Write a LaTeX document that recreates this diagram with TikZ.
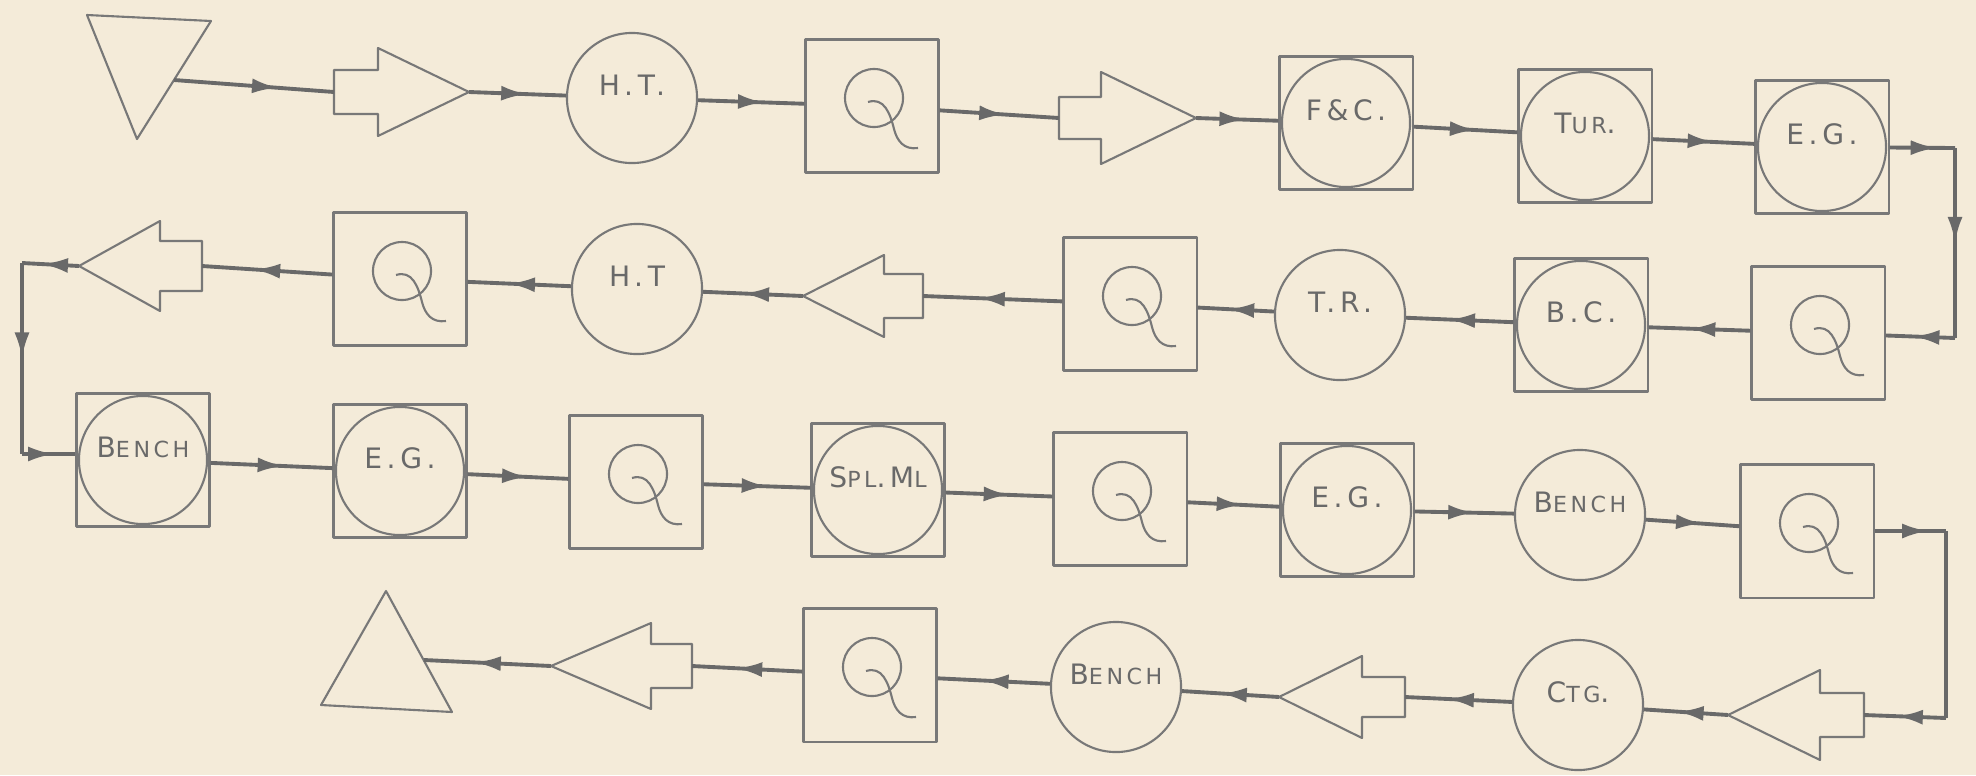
\documentclass[tikz,border=0pt]{standalone}
\usepackage{fontspec}
\newfontfamily\hand[LetterSpace=16]{DejaVu Sans}
\usetikzlibrary{arrows.meta,decorations.markings,calc}
\definecolor{paper}{RGB}{244,235,217}
\definecolor{pencil}{RGB}{105,105,105}
\definecolor{pencilL}{RGB}{120,120,120}
\newcommand\sm[1]{{\fontsize{6.3}{7}\selectfont #1}}
% name, tipx, tipy, basex, tailx, headhalf, tailhalf
\newcommand{\blockarrow}[7]{%
  \draw[shp] (#5,#3-#7) -- (#4,#3-#7) -- (#4,#3-#6) -- (#2,#3) -- (#4,#3+#6) -- (#4,#3+#7) -- (#5,#3+#7) -- cycle;
  \coordinate (#1-tip) at (#2,#3);
  \coordinate (#1-tail) at (#5,#3);}
\tikzset{
  shp/.style={draw=pencilL, line width=0.6pt, line join=round},
  lbl/.style={text=pencil, font={\hand\fontsize{8}{9}\selectfont}, text height=0.24cm, text depth=0.3cm, inner sep=0pt},
  circ/.style={shp, circle, minimum size=1.3cm, lbl},
  sq/.style={shp, rectangle, minimum width=1.33cm, minimum height=1.33cm, lbl},
  sqc/.style={sq, path picture={\draw[shp] (path picture bounding box.center) circle[radius=0.64cm];}},
  qbox/.style={sq, path picture={\begin{scope}[shift={(path picture bounding box.center)}]
      \draw[shp] (2,-5) circle[radius=0.29cm];
      \draw[shp] (-4,-1) .. controls (12,-6) and (18,10) .. (22,26) .. controls (25,38) and (32,47) .. (46,45);
    \end{scope}}},
  flow/.style={draw=pencil, line width=1.1pt, decoration={markings, mark=at position #1 with {\arrow{Latex[length=0.26cm,width=0.15cm]}}}, postaction={decorate}},
  flow/.default=0.6,
}
\begin{document}
\begin{tikzpicture}[x=0.01cm, y=-0.01cm]
\path[use as bounding box, fill=paper] (0,0) rectangle (1976,775);

% storage triangles
\draw[shp] (87,15) -- (211,21) -- (137,139) -- cycle;
\coordinate (src) at (174,80);
\draw[shp] (386,591) -- (452,712) -- (321,705) -- cycle;
\coordinate (sink) at (424,660);

% block arrows
\blockarrow{ba1}{469}{92}{378}{334}{44}{22}
\blockarrow{ba2}{1196}{118}{1101}{1059}{46}{21}
\blockarrow{ba3}{803}{296}{884}{923}{41}{22}
\blockarrow{ba4}{79}{266}{160}{202}{45}{25}
\blockarrow{ba5}{1728}{715}{1820}{1864}{45}{22}
\blockarrow{ba6}{1279}{697}{1362}{1405}{41}{20}
\blockarrow{ba7}{551}{666}{651}{692}{43}{22}

% row 1
\node[circ] (ht1) at (632,98) {H.\,T.};
\node[qbox] (q1) at (872,106) {};
\node[sqc] (fc) at (1346,123) {F\&C.};
\node[sqc] (tur) at (1585,136) {T\sm{UR}.};
\node[sqc] (eg1) at (1822,147) {E.\,G.};
% row 2
\node[qbox] (q2) at (1818,333) {};
\node[sqc] (bc) at (1581,325) {B.\,C.};
\node[circ] (tr) at (1340,315) {T.\,R.};
\node[qbox] (q3) at (1130,304) {};
\node[circ] (ht2) at (637,289) {H.\,T};
\node[qbox] (q4) at (400,279) {};
% row 3
\node[sqc] (bench1) at (143,460) {B\sm{ENCH}};
\node[sqc] (eg2) at (400,471) {E.\,G.};
\node[qbox] (q5) at (636,482) {};
\node[sqc] (spl) at (878,490) {S\sm{PL}.M\sm{L}};
\node[qbox] (q6) at (1120,499) {};
\node[sqc] (eg3) at (1347,510) {E.\,G.};
\node[circ] (bench2) at (1580,515) {B\sm{ENCH}};
\node[qbox] (q7) at (1807,531) {};
% row 4
\node[circ] (ctg) at (1578,705) {C\sm{TG}.};
\node[circ] (bench3) at (1116,687) {B\sm{ENCH}};
\node[qbox] (q8) at (870,675) {};

% corner points
\coordinate (cr1) at (1955,148);
\coordinate (cr2) at (1955,338);
\coordinate (cl1) at (22,263);
\coordinate (cl2) at (22,454);
\coordinate (cr3) at (1946,531);
\coordinate (cr4) at (1946,718);

% connectors row 1
\draw[flow=0.65] (src) -- (ba1-tail);
\draw[flow] (ba1-tip) -- (ht1);
\draw[flow=0.62] (ht1) -- (q1);
\draw[flow=0.55] (q1) -- (ba2-tail);
\draw[flow] (ba2-tip) -- (fc);
\draw[flow] (fc) -- (tur);
\draw[flow] (tur) -- (eg1);
\draw[flow=0.72] (eg1) -- (cr1);
\draw[flow=0.5] (cr1) -- (cr2);
% row 2
\draw[flow=0.6] (cr2) -- (q2);
\draw[flow] (q2) -- (bc);
\draw[flow] (bc) -- (tr);
\draw[flow] (tr) -- (q3);
\draw[flow] (q3) -- (ba3-tail);
\draw[flow] (ba3-tip) -- (ht2);
\draw[flow] (ht2) -- (q4);
\draw[flow] (q4) -- (ba4-tail);
\draw[flow=0.65] (ba4-tip) -- (cl1);
\draw[flow=0.5] (cl1) -- (cl2);
% row 3
\draw[flow=0.6] (cl2) -- (cl2 -| bench1.west);
\draw[flow] (bench1) -- (eg2);
\draw[flow] (eg2) -- (q5);
\draw[flow] (q5) -- (spl);
\draw[flow] (spl) -- (q6);
\draw[flow] (q6) -- (eg3);
\draw[flow] (eg3) -- (bench2);
\draw[flow] (bench2) -- (q7);
\draw[flow=0.75] (q7) -- (cr3);
\draw[draw=pencil, line width=1.1pt] (cr3) -- (cr4);
% row 4
\draw[flow=0.6] (cr4) -- (ba5-tail);
\draw[flow] (ba5-tip) -- (ctg);
\draw[flow] (ctg) -- (ba6-tail);
\draw[flow] (ba6-tip) -- (bench3);
\draw[flow] (bench3) -- (q8);
\draw[flow] (q8) -- (ba7-tail);
\draw[flow] (ba7-tip) -- (sink);
\end{tikzpicture}
\end{document}
